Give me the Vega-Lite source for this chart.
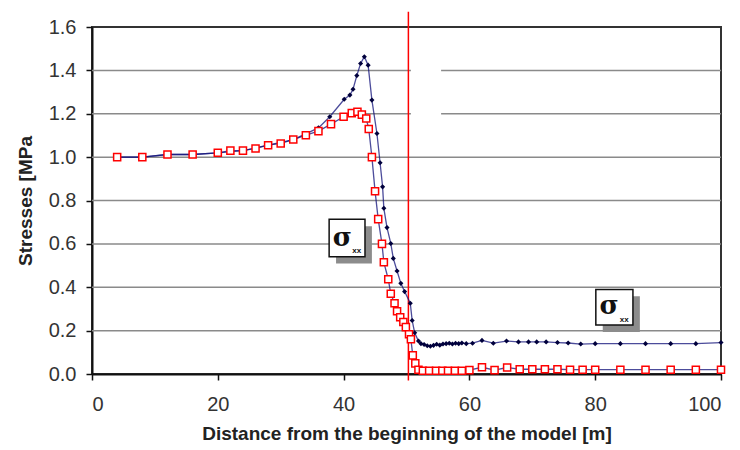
{
  "$schema": "https://vega.github.io/schema/vega-lite/v6.json",
  "width": 629,
  "height": 347,
  "autosize": {"type": "none"},
  "padding": {"left": 92, "top": 27, "right": 19, "bottom": 76},
  "background": "white",
  "config": {
    "view": {"stroke": "#333333", "strokeWidth": 2},
    "font": "Liberation Sans"
  },
  "datasets": {
    "grid": [
      {"y": 0.2, "x0": 0, "x1": 100},
      {"y": 0.4, "x0": 0, "x1": 100},
      {"y": 0.6, "x0": 0, "x1": 100},
      {"y": 0.8, "x0": 0, "x1": 100},
      {"y": 1.0, "x0": 0, "x1": 100},
      {"y": 1.2, "x0": 0, "x1": 50.7},
      {"y": 1.2, "x0": 55.5, "x1": 100},
      {"y": 1.4, "x0": 0, "x1": 50.7},
      {"y": 1.4, "x0": 55.5, "x1": 100}
    ],
    "curves": [
      {"series": "blue", "x": 4, "y": 1.0},
      {"series": "blue", "x": 8, "y": 1.0},
      {"series": "blue", "x": 12, "y": 1.012},
      {"series": "blue", "x": 16, "y": 1.012},
      {"series": "blue", "x": 20, "y": 1.02},
      {"series": "blue", "x": 24, "y": 1.03},
      {"series": "blue", "x": 28, "y": 1.055},
      {"series": "blue", "x": 32, "y": 1.081},
      {"series": "blue", "x": 36, "y": 1.135},
      {"series": "blue", "x": 37.8, "y": 1.186},
      {"series": "blue", "x": 40.1, "y": 1.267},
      {"series": "blue", "x": 41.0, "y": 1.286},
      {"series": "blue", "x": 41.5, "y": 1.313},
      {"series": "blue", "x": 42.1, "y": 1.376},
      {"series": "blue", "x": 42.7, "y": 1.432},
      {"series": "blue", "x": 43.3, "y": 1.463},
      {"series": "blue", "x": 43.9, "y": 1.424},
      {"series": "blue", "x": 44.5, "y": 1.263},
      {"series": "blue", "x": 45.3, "y": 1.109},
      {"series": "blue", "x": 45.8, "y": 0.974},
      {"series": "blue", "x": 46.2, "y": 0.863},
      {"series": "blue", "x": 46.4, "y": 0.764},
      {"series": "blue", "x": 46.9, "y": 0.675},
      {"series": "blue", "x": 47.5, "y": 0.602},
      {"series": "blue", "x": 47.9, "y": 0.533},
      {"series": "blue", "x": 48.5, "y": 0.475},
      {"series": "blue", "x": 49.1, "y": 0.418},
      {"series": "blue", "x": 49.7, "y": 0.38},
      {"series": "blue", "x": 50.6, "y": 0.326},
      {"series": "blue", "x": 50.9, "y": 0.247},
      {"series": "blue", "x": 51.3, "y": 0.19},
      {"series": "blue", "x": 51.9, "y": 0.152},
      {"series": "blue", "x": 52.3, "y": 0.14},
      {"series": "blue", "x": 52.8, "y": 0.136},
      {"series": "blue", "x": 53.3, "y": 0.13},
      {"series": "blue", "x": 53.8, "y": 0.128},
      {"series": "blue", "x": 54.3, "y": 0.132},
      {"series": "blue", "x": 54.8, "y": 0.137},
      {"series": "blue", "x": 55.3, "y": 0.133},
      {"series": "blue", "x": 55.8, "y": 0.138},
      {"series": "blue", "x": 56.3, "y": 0.14},
      {"series": "blue", "x": 56.8, "y": 0.142},
      {"series": "blue", "x": 57.3, "y": 0.138},
      {"series": "blue", "x": 57.8, "y": 0.142},
      {"series": "blue", "x": 58.3, "y": 0.14},
      {"series": "blue", "x": 58.8, "y": 0.143},
      {"series": "blue", "x": 59.5, "y": 0.14},
      {"series": "blue", "x": 60.5, "y": 0.142},
      {"series": "blue", "x": 62.0, "y": 0.155},
      {"series": "blue", "x": 63.8, "y": 0.142},
      {"series": "blue", "x": 65.9, "y": 0.152},
      {"series": "blue", "x": 67.8, "y": 0.148},
      {"series": "blue", "x": 69.4, "y": 0.148},
      {"series": "blue", "x": 70.7, "y": 0.148},
      {"series": "blue", "x": 72.2, "y": 0.148},
      {"series": "blue", "x": 74.0, "y": 0.145},
      {"series": "blue", "x": 75.7, "y": 0.143},
      {"series": "blue", "x": 77.7, "y": 0.138},
      {"series": "blue", "x": 80, "y": 0.14},
      {"series": "blue", "x": 84, "y": 0.14},
      {"series": "blue", "x": 88, "y": 0.14},
      {"series": "blue", "x": 92, "y": 0.14},
      {"series": "blue", "x": 96, "y": 0.14},
      {"series": "blue", "x": 100, "y": 0.145},
      {"series": "red", "x": 4, "y": 1.0},
      {"series": "red", "x": 8, "y": 1.0},
      {"series": "red", "x": 12, "y": 1.012},
      {"series": "red", "x": 16, "y": 1.012},
      {"series": "red", "x": 20, "y": 1.02},
      {"series": "red", "x": 22, "y": 1.03},
      {"series": "red", "x": 24, "y": 1.03},
      {"series": "red", "x": 26, "y": 1.04},
      {"series": "red", "x": 28, "y": 1.055},
      {"series": "red", "x": 30, "y": 1.063},
      {"series": "red", "x": 32, "y": 1.081},
      {"series": "red", "x": 34, "y": 1.101},
      {"series": "red", "x": 36, "y": 1.12},
      {"series": "red", "x": 38, "y": 1.152},
      {"series": "red", "x": 40, "y": 1.186},
      {"series": "red", "x": 41.3, "y": 1.203},
      {"series": "red", "x": 42.2, "y": 1.209},
      {"series": "red", "x": 42.9, "y": 1.196},
      {"series": "red", "x": 43.6, "y": 1.178},
      {"series": "red", "x": 44.0, "y": 1.13},
      {"series": "red", "x": 44.5, "y": 1.0},
      {"series": "red", "x": 45.0, "y": 0.843},
      {"series": "red", "x": 45.5, "y": 0.714},
      {"series": "red", "x": 46.1, "y": 0.6},
      {"series": "red", "x": 46.4, "y": 0.515},
      {"series": "red", "x": 47.1, "y": 0.437},
      {"series": "red", "x": 47.5, "y": 0.37},
      {"series": "red", "x": 48.1, "y": 0.326},
      {"series": "red", "x": 48.5, "y": 0.289},
      {"series": "red", "x": 49.0, "y": 0.262},
      {"series": "red", "x": 49.5, "y": 0.24},
      {"series": "red", "x": 49.9, "y": 0.216},
      {"series": "red", "x": 50.4, "y": 0.183},
      {"series": "red", "x": 50.7, "y": 0.16},
      {"series": "red", "x": 51.0, "y": 0.086},
      {"series": "red", "x": 51.4, "y": 0.049},
      {"series": "red", "x": 51.9, "y": 0.02},
      {"series": "red", "x": 52.6, "y": 0.015},
      {"series": "red", "x": 53.6, "y": 0.015},
      {"series": "red", "x": 54.7, "y": 0.015},
      {"series": "red", "x": 55.7, "y": 0.015},
      {"series": "red", "x": 56.6, "y": 0.015},
      {"series": "red", "x": 57.7, "y": 0.015},
      {"series": "red", "x": 58.8, "y": 0.015},
      {"series": "red", "x": 60, "y": 0.018},
      {"series": "red", "x": 62, "y": 0.031},
      {"series": "red", "x": 64, "y": 0.018},
      {"series": "red", "x": 66, "y": 0.03},
      {"series": "red", "x": 68, "y": 0.022},
      {"series": "red", "x": 70, "y": 0.022},
      {"series": "red", "x": 72, "y": 0.022},
      {"series": "red", "x": 74, "y": 0.022},
      {"series": "red", "x": 76, "y": 0.02},
      {"series": "red", "x": 78, "y": 0.02},
      {"series": "red", "x": 80, "y": 0.02},
      {"series": "red", "x": 84, "y": 0.02},
      {"series": "red", "x": 88, "y": 0.02},
      {"series": "red", "x": 92, "y": 0.02},
      {"series": "red", "x": 96, "y": 0.02},
      {"series": "red", "x": 100, "y": 0.02}
    ],
    "boxes": [
      {"x1": 37.7, "x2": 43.4, "y1": 0.541, "y2": 0.713, "sx1": 38.8, "sx2": 44.5, "sy1": 0.509, "sy2": 0.681, "tx": 39.8, "ty": 0.625, "ux": 42.1, "uy": 0.565, "label": "σ", "sub": "xx"},
      {"x1": 80.1, "x2": 86.0, "y1": 0.226, "y2": 0.39, "sx1": 81.2, "sx2": 87.1, "sy1": 0.194, "sy2": 0.358, "tx": 82.2, "ty": 0.314, "ux": 84.6, "uy": 0.247, "label": "σ", "sub": "xx"}
    ],
    "marker": [
      {"x": 50.3, "ylo": -0.03, "yhi": 1.67}
    ]
  },
  "layer": [
    {
      "data": {"name": "grid"},
      "mark": {"type": "rule", "color": "#8a8a8a", "strokeWidth": 1.5},
      "encoding": {
        "x": {
          "field": "x0", "type": "quantitative",
          "scale": {"domain": [0, 100], "nice": false, "zero": false},
          "axis": {
            "values": [0, 20, 40, 60, 80, 100],
            "grid": false,
            "tickSize": 6, "tickWidth": 1.5, "tickColor": "#111111",
            "domainColor": "#111111", "domainWidth": 2,
            "labelFontSize": 20, "labelColor": "#333333", "labelPadding": 14,
            "labelFont": "Liberation Sans",
            "title": "Distance from the beginning of the model [m]",
            "titleFontSize": 19, "titleFontWeight": "bold", "titleColor": "#222222",
            "titleFont": "Liberation Sans", "titlePadding": 10
          }
        },
        "x2": {"field": "x1"},
        "y": {
          "field": "y", "type": "quantitative",
          "scale": {"domain": [0, 1.6], "nice": false, "zero": false},
          "axis": {
            "values": [0, 0.2, 0.4, 0.6, 0.8, 1.0, 1.2, 1.4, 1.6],
            "format": ".1f",
            "grid": false,
            "tickSize": 6, "tickWidth": 1.5, "tickColor": "#111111",
            "domainColor": "#111111", "domainWidth": 2,
            "labelFontSize": 20, "labelColor": "#333333", "labelPadding": 10,
            "labelFont": "Liberation Sans",
            "title": "Stresses [MPa",
            "titleFontSize": 19, "titleFontWeight": "bold", "titleColor": "#222222",
            "titleFont": "Liberation Sans", "titlePadding": 13
          }
        }
      }
    },
    {
      "data": {"name": "marker"},
      "mark": {"type": "rule", "color": "#ff0000", "strokeWidth": 1.5},
      "encoding": {
        "x": {"field": "x", "type": "quantitative"},
        "y": {"field": "ylo", "type": "quantitative"},
        "y2": {"field": "yhi"}
      }
    },
    {
      "data": {"name": "curves"},
      "mark": {"type": "line", "color": "#10107a", "strokeWidth": 1.3, "opacity": 0.75},
      "encoding": {
        "x": {"field": "x", "type": "quantitative"},
        "y": {"field": "y", "type": "quantitative"},
        "detail": {"field": "series"}
      }
    },
    {
      "data": {"name": "curves"},
      "transform": [{"filter": "datum.series == 'blue'"}],
      "mark": {"type": "point", "shape": "diamond", "filled": true, "color": "#00003c", "size": 26, "opacity": 1},
      "encoding": {
        "x": {"field": "x", "type": "quantitative"},
        "y": {"field": "y", "type": "quantitative"}
      }
    },
    {
      "data": {"name": "curves"},
      "transform": [{"filter": "datum.series == 'red'"}],
      "mark": {"type": "point", "shape": "square", "fill": "white", "fillOpacity": 1, "stroke": "#ff0000", "strokeWidth": 1.5, "size": 50, "opacity": 1},
      "encoding": {
        "x": {"field": "x", "type": "quantitative"},
        "y": {"field": "y", "type": "quantitative"}
      }
    },
    {
      "data": {"name": "boxes"},
      "mark": {"type": "rect", "fill": "#8c8c8c"},
      "encoding": {
        "x": {"field": "sx1", "type": "quantitative"},
        "x2": {"field": "sx2"},
        "y": {"field": "sy1", "type": "quantitative"},
        "y2": {"field": "sy2"}
      }
    },
    {
      "data": {"name": "boxes"},
      "mark": {"type": "rect", "fill": "white", "stroke": "#111111", "strokeWidth": 1.5},
      "encoding": {
        "x": {"field": "x1", "type": "quantitative"},
        "x2": {"field": "x2"},
        "y": {"field": "y1", "type": "quantitative"},
        "y2": {"field": "y2"}
      }
    },
    {
      "data": {"name": "boxes"},
      "mark": {"type": "text", "font": "DejaVu Serif", "fontWeight": "bold", "fontSize": 26, "color": "#111111", "align": "center", "baseline": "middle"},
      "encoding": {
        "x": {"field": "tx", "type": "quantitative"},
        "y": {"field": "ty", "type": "quantitative"},
        "text": {"field": "label"}
      }
    },
    {
      "data": {"name": "boxes"},
      "mark": {"type": "text", "font": "Liberation Sans", "fontWeight": "bold", "fontSize": 8, "color": "#111111", "align": "center", "baseline": "middle"},
      "encoding": {
        "x": {"field": "ux", "type": "quantitative"},
        "y": {"field": "uy", "type": "quantitative"},
        "text": {"field": "sub"}
      }
    }
  ]
}
